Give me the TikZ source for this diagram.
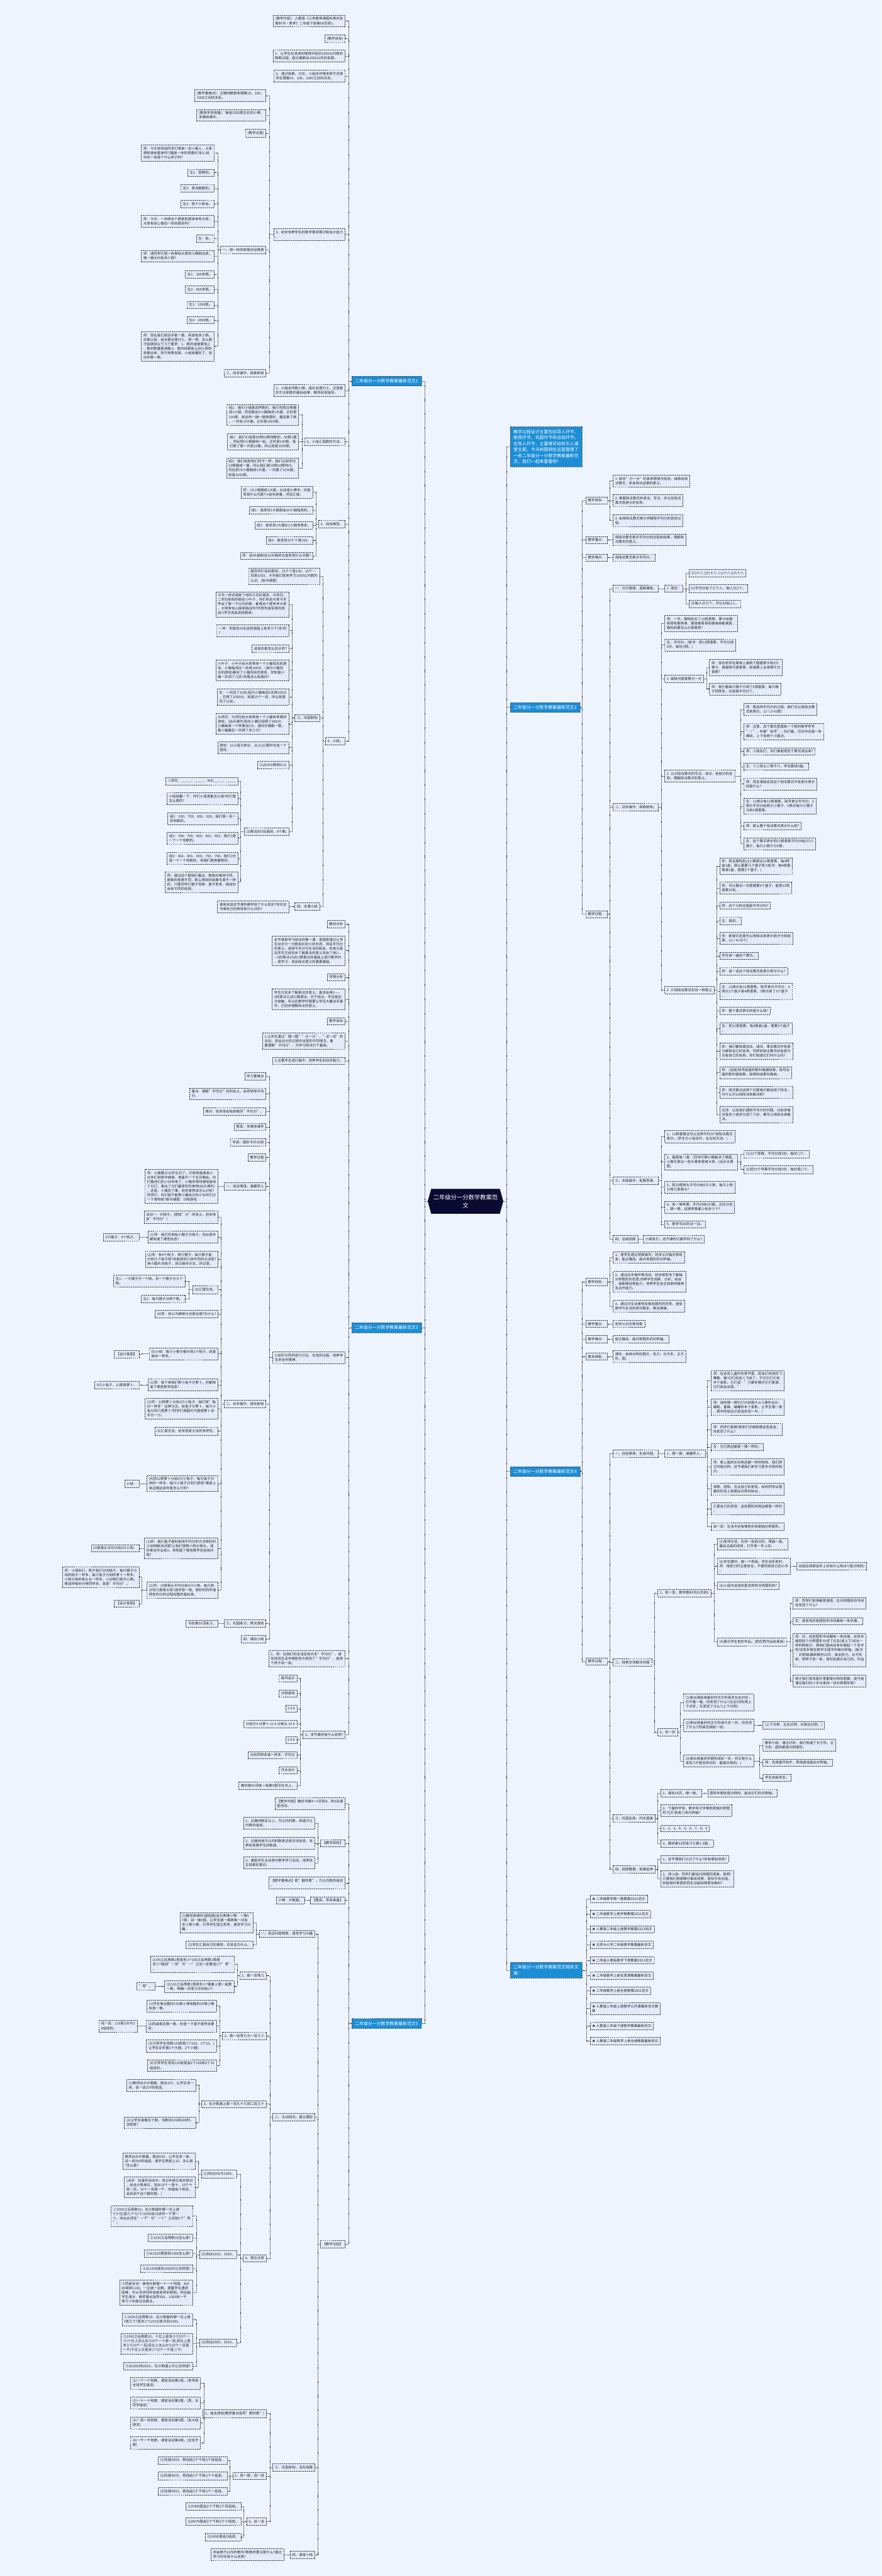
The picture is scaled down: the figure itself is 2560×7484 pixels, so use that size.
\documentclass[tikz,border=0pt]{standalone}
\usepackage{fontspec}
\setmainfont{Noto Sans CJK SC}
\definecolor{paper}{HTML}{EEF4FE}
\definecolor{leaffill}{HTML}{E3EBF9}
\definecolor{topicblue}{HTML}{1C8ED6}
\definecolor{rootblue}{HTML}{0B0B32}
\pgfdeclarelayer{bg}
\pgfsetlayers{bg,main}
\tikzset{
  leaf/.style={draw=black!80, line width=1.1pt, dash pattern=on 3.5pt off 2pt, fill=leaffill,
    text=black!85, align=left, inner xsep=6pt, inner ysep=6pt, font=\fontsize{10pt}{12.9pt}\selectfont},
  leafL/.style={leaf, anchor=east},
  leafR/.style={leaf, anchor=west},
  topic/.style={draw=black!70, line width=1.1pt, dash pattern=on 3.5pt off 2pt, fill=topicblue,
    text=white, align=left, inner xsep=10pt, inner ysep=8.5pt, font=\fontsize{12.6pt}{17.3pt}\selectfont},
  rootnode/.style={text=white, align=center, inner xsep=16pt, inner ysep=16pt,
    font=\fontsize{17pt}{24pt}\selectfont},
  link/.style={draw=black!85, line width=1pt, dash pattern=on 2pt off 1.5pt}
}
% parent, trunk x, children
\newcommand{\fanL}[3]{\foreach \c in {#3}{\draw[link] (#1.west) -- (#2,0 |- #1.west) |- (\c.east);}}
\newcommand{\fanR}[3]{\foreach \c in {#3}{\draw[link] (#1.east) -- (#2,0 |- #1.east) |- (\c.west);}}

\begin{document}
\begin{tikzpicture}[x=1pt,y=-1pt]
\useasboundingbox (0,0) rectangle (2560,7484);

\node[rootnode] (root) at (1352,3490) {二年级分一分数学教案范\\文};
\node[topic,anchor=east] (b1) at (1225,1107) {二年级分一分数学教案最新范文1};
\node[topic,anchor=east] (b3) at (1225,3857) {二年级分一分数学教案最新范文3};
\node[topic,anchor=east] (b5) at (1225,5879) {二年级分一分数学教案最新范文5};
\node[topic,anchor=west] (info) at (1481,1298) {教学过程设计主要包括导入环节、\\新授环节、巩固环节和总结环节。\\在导入环节，主要撰写如何引入课\\堂主题。今天树图网在这里整理了\\一些二年级分一分数学教案最新范\\文，我们一起来看看吧!};
\node[topic,anchor=west] (b2) at (1481,2055) {二年级分一分数学教案最新范文2};
\node[topic,anchor=west] (b4) at (1481,4275) {二年级分一分数学教案最新范文4};
\node[topic,anchor=west] (rel) at (1481,5724) {二年级分一分数学教案范文相关文\\章：};

\begin{pgfonlayer}{bg}
\fill[paper] (0,0) rectangle (2560,7484);
\fill[rootblue] (root.west) -- ([xshift=10pt]root.north west) -- ([xshift=-10pt]root.north east)
  -- (root.east) -- ([xshift=-10pt]root.south east) -- ([xshift=10pt]root.south west) -- cycle;
\end{pgfonlayer}

\fanL{root}{1233}{b1,b3,b5}
\fanR{root}{1471}{info,b2,b4,rel}

% 范文1
\node[leafL] (a1) at (1003,61) {[教学内容]：人教版《义务教育课程标准实验\\教科书·数学》二年级下册第68页例1。};
\node[leafL] (a2) at (1003,112) {[教学目标]};
\node[leafL] (a3) at (1003,163) {1、让学生在具体的情境中经历1000以内数的\\数数过程，能正确数出1000以内的各数。};
\node[leafL] (a4) at (1003,221) {2、通过探索、讨论、小组合作等多种方式使\\学生理解10、100、1000之间的关系。};
\node[leafL] (a5) at (1003,681) {3、初步培养学生的数学猜测意识和估计能力\\。};
\node[leafL] (a6) at (1003,1135) {1、小组合作数小棒，组长合理分工，记录数\\的方法和数的最后结果，教师巡视指导。};
\node[leafL] (a7) at (1003,1283) {2、小组汇报数的方法。};
\node[leafL] (a8) at (1003,1522) {3、找出典型。};
\node[leafL] (a9) at (1003,2153) {4、小结。};
\fanL{b1}{1012}{a1,a2,a3,a4,a5,a6,a7,a8,a9}

\node[leafL] (a5a) at (773,278) {[教学重难点]：正确地数数和理解10、100、\\1000之间的关系。};
\node[leafL] (a5b) at (773,335) {[教具学具准备]：每组1000根左右的小棒，\\多媒体课件。};
\node[leafL] (a5c) at (773,387) {[教学过程]};
\node[leafL] (a5d) at (773,726) {一、用一休的故事创设情境};
\node[leafL] (a5e) at (773,1084) {二、动手操作，探索新知};
\fanL{a5}{782}{a5a,a5b,a5c,a5d,a5e}

\node[leafL] (d1) at (623,444) {师：今天老师给同学们带来一位小客人，大家\\想知道他是谁吗?(播放一休的录像片)你心目\\中的一休是个什么样子的?};
\node[leafL] (d2) at (623,502) {生1：聪明的。};
\node[leafL] (d3) at (623,547) {生2：爱动脑筋的。};
\node[leafL] (d4) at (623,592) {生3：是个小和尚。};
\node[leafL] (d5) at (623,643) {师：今天，一休想出个数数的题来考考大家，\\大家有信心做出一休的题目吗?};
\node[leafL] (d6) at (623,693) {生：有。};
\node[leafL] (d7) at (623,744) {师：请同学们把一休带给大家的小棒倒出来，\\猜一猜大约有多少根?};
\node[leafL] (d8) at (623,797) {生1：300多根。};
\node[leafL] (d9) at (623,841) {生2：800多根。};
\node[leafL] (d10) at (623,886) {生3：1000根。};
\node[leafL] (d11) at (623,930) {生4：2000根。};
\node[leafL] (d12) at (623,1006) {师：现在我们就动手数一数，到底有多少根。\\在数以前，组长要合理分工，想一想，怎么数\\才能做到以下几个要求：1、数的速度要快;2\\、数的数量要准确;3、数的结果能让别人很快\\就看出来，而不用再去数。小组商量好了，就\\动手数一数。};
\fanL{a5d}{633}{d1,d2,d3,d4,d5,d6,d7,d8,d9,d10,d11,d12}

\node[leafL] (e1) at (868,1205) {组1：我们小组是这样数的，我们先把20根捆\\成1小捆，然后数出5小捆捆成1大捆，正好是\\100根，就这样一捆一捆地摆好，最后数了数\\，一共有10大捆，正好是1000根。};
\node[leafL] (e2) at (868,1283) {组2：我们小组是50根50根地数的，50根1捆\\，然后把2小捆捆到一起，正好是100根，我\\们数了数一共是10捆，所以就是1000根。};
\node[leafL] (e3) at (868,1360) {组3：我们组和他们的不一样，我们以前学过\\10根捆成一捆，所以我们是10根10根地分。\\然后把10小捆捆成1大捆，一共捆了10大捆，\\就是1000根。};
\fanL{a7}{877}{e1,e2,e3}

\node[leafL] (f1) at (909,1430) {师：10小捆捆成1大捆，从这组小棒中，你能\\发现什么问题?小组先商量，然后汇报。};
\node[leafL] (f2) at (909,1482) {组1：我发现1大捆是由10小捆组成的。};
\node[leafL] (f3) at (909,1526) {组2：我发现1大捆比1小捆多得多。};
\node[leafL] (f4) at (909,1570) {组3：我发现10个十是100。};
\node[leafL] (f5) at (909,1615) {师：这l大捆和这10大捆你又能发现什么问题?};
\fanL{a8}{917}{f1,f2,f3,f4,f5}

\node[leafL] (g1) at (929,1674) {跟同学们说的那样，10个十是100，10个一\\百是1000，今天我们就来学习1000以内数的\\认识。(板书课题)};
\node[leafL] (g2) at (929,2086) {三、巩固新知};
\node[leafL] (g3) at (929,2634) {四、全课小结};
\fanL{a9}{937}{g1,g2,g3}

\node[leafL] (h1) at (839,1756) {今天一休还请来了他的三位好朋友，大师兄、\\二师兄和他的朋友小叶子，他们听说大家今天\\学会了数一千以内的数，都想出个题考考大家\\，大家有信心接受挑战吗?你想先接受谁的挑\\战?(学生自由选择题目)};
\node[leafL] (h2) at (839,1832) {一休：你能估计出这些画面上有多少个(本)吗\\?};
\node[leafL] (h3) at (839,1884) {说说你是怎么估计的?};
\node[leafL] (h4) at (839,1947) {小叶子：小叶子给大家带来一个小猫闯关的游\\戏，小猫每闯过一关得100分，(演示小猫闯\\关的游戏)看完了小猫闯关的游戏，你知道小\\猫一共闯了几关?你是怎么知道的?};
\node[leafL] (h5) at (839,2025) {生：一共闯了10关;因为小猫每闯1关得100分\\，它得了1000分，就是10个一百，所以就是\\闯了10关。};
\node[leafL] (h6) at (839,2103) {大师兄：大师兄给大家带来一个小猫收苹果的\\游戏，(出示课件)现在小猫已经得了986分，\\小猫每收一个苹果加1分，请你仔细数一数，\\看小猫最后一共得了多少分?};
\node[leafL] (h7) at (839,2172) {游戏：以小组为单位，从(1)(2)题中任选一个\\题目。};
\node[leafL] (h8) at (839,2223) {(1)从592数到613;};
\node[leafL] (h9) at (839,2416) {(2)数出897后面的，8个数;};
\fanL{g2}{849}{h1,h2,h3,h4,h5,h6,h7,h8,h9}

\node[leafL] (i1) at (692,2269) {二师兄：\_\_\_\_\_、\_\_\_\_\_、800\_\_\_\_\_、\_\_\_\_\_};
\node[leafL] (i2) at (692,2320) {小组商量一下，你们小组准备怎么填?你们是\\怎么数的?};
\node[leafL] (i3) at (692,2378) {组1：600、700、800、900，我们是一百一\\百地数的。};
\node[leafL] (i4) at (692,2435) {组2：798、799、800、801、802，我们1是\\一个一个地数的。};
\node[leafL] (i5) at (692,2494) {组3：802、801、800、799、798，我们1也\\是一个一个地数的，但我们是倒着数的。};
\node[leafL] (i6) at (692,2563) {师：通过这个题我们看出，数数的顺序不同、\\数数的规律不同，那么得到的结果也是不一样\\的，只要同学们善于观察，善于思考，相信你\\会有不同的收获。};
\fanL{h9}{699}{i1,i2,i3,i4,i5,i6}

\node[leafL] (j1) at (839,2634) {谁来说说这节课你都学到了什么知识?你对这\\节课自己的表现有什么评价?};
\fanL{g3}{849}{j1}

% 范文3
\node[leafL] (k1) at (1003,2685) {教材分析};
\node[leafL] (k2) at (1003,2762) {本节课是学习除法的第一课，意图是通过让学\\生动手分一分数目比较小的东西，体验平均分\\的意义，感受平均分与生活的联系。本单元是\\在学生已经初步了解乘法的意义学会了用2—\\—5的乘法口诀口算乘法的基础上进行教学的\\，是学习、体会除法意义的重要基础。};
\node[leafL] (k3) at (1003,2839) {学情分析};
\node[leafL] (k4) at (1003,2903) {学生已初步了解乘法的意义，基本会用2——\\5的乘法口诀口算乘法。对于除法，学生是初\\次接触，所以在教学时需要让学生大量动手操\\作，已初步理解除法的意义。};
\node[leafL] (k5) at (1003,2967) {教学目标};
\node[leafL] (k6) at (1003,3024) {1.让学生通过"摆一摆""分一分"、"试一试"的\\活动，体会在分的过程中出现的不同情况，着\\重理解"平均分"，为学习除法打下基础。};
\node[leafL] (k7) at (1003,3082) {2.注重学生进行操作，培养学生的动手能力。};
\node[leafL] (k8) at (1003,3944) {3.经历与同学进行讨论、交流的过程，培养学\\生的合作精神。};
\node[leafL] (k9) at (1003,4819) {1、师：在我们的生活还有许多"平均分"，请\\你找找生活中哪些地方用到了"平均分"，能举\\个例子说一说。};
\node[leafL] (k10) at (1003,5040) {2、本节课你有什么收获?};
\fanL{b3}{1012}{k1,k2,k3,k4,k5,k6,k7,k8,k9,k10}

\node[leafL] (l1) at (773,3127) {学习重难点};
\node[leafL] (l2) at (773,3178) {重点：理解"平均分"的的含义，会将物体平均\\分。};
\node[leafL] (l3) at (773,3229) {难点：初步体会有余数的"平均分"。};
\node[leafL] (l4) at (773,3274) {教具：多媒体课件};
\node[leafL] (l5) at (773,3319) {学具：圆形卡片30张};
\node[leafL] (l6) at (773,3363) {教学过程};
\node[leafL] (l7) at (773,3447) {一、创设情境，激趣导入};
\node[leafL] (l8) at (773,4079) {二、动手操作，探究新知};
\node[leafL] (l9) at (773,4717) {三、巩固练习，再次感知};
\node[leafL] (l10) at (773,4762) {四、课后小结};
\fanL{k8}{782}{l1,l2,l3,l4,l5,l6,l7,l8,l9,l10}

\node[leafL] (m0) at (634,3447) {师：小猪要过10岁生日了，它特地邀请来小\\伙伴们到家中做客，准备开一个生日晚会。你\\们看他们的小伙伴来了，小猪非常热情地接待\\了它们，拿出了它们最爱吃的食物(出示课件)\\，这是，小猪犯了难，这些食物该怎么分呢?\\同学们，你们能不能帮小猪给它的小伙伴们分\\一下食物呢?板书课题：分物游戏};
\fanL{l7}{642}{m0}

\node[leafL] (m1) at (634,3536) {活动一：分桃子。(感知"分"的含义，初步体\\会"平均分")};
\node[leafL] (m2) at (634,3594) {(1)师：我们先来给小猴子分桃子。你从图中\\都知道了哪些信息?};
\node[leafL] (m3) at (634,3658) {(2)师：有4个桃子，两只猴子，每只猴子能\\分到几个桃子呢?你能想到几种不同的分法呢?\\用小圆片当桃子，自己操作分法，并记录。};
\node[leafL] (m4) at (634,3747) {(3)汇报交流。};
\node[leafL] (m5) at (634,3818) {(4)师：你认为哪种分法更合理?为什么?};
\node[leafL] (m6) at (634,3933) {(5)小结：每只小猴子都分到2个桃子，就是\\每份一样多。};
\node[leafL] (m7) at (634,4023) {(1)师：接下来我们帮小兔子分萝卜。你都知\\道了哪些数学信息?};
\node[leafL] (m8) at (634,4093) {(2)师：12根萝卜分给3只小兔子，我们按"每\\份一样多"这种分法，给兔子分萝卜，每只小\\兔分到几根萝卜?同学们用圆片代替胡萝卜动\\手分一分。};
\node[leafL] (m9) at (634,4158) {(3)汇报交流，初步感受分法的多样性。};
\node[leafL] (m10) at (634,4310) {(4)把12根萝卜分给3只小兔子，每只兔子分\\到的一样多，每只小兔子分到几根呢?谁能上\\来边摆边讲你是怎么分的?};
\node[leafL] (m11) at (634,4498) {(1)师：我们能不能利用用平均分的方法帮别的\\小动物解决问题?让我们快帮小狗分骨头，请\\你拿出作业纸1，你知道了哪些数学信息和问\\题?};
\node[leafL] (m12) at (634,4620) {(2)师：15根骨头平均分给3只小狗，每只狗\\分到几根骨头呢?请你想一想。想好的同学请\\把你的分的过程完整的画出来。};
\fanL{l8}{642}{m1,m2,m3,m4,m5,m6,m7,m8,m9,m10,m11,m12}

\node[leafL] (p1) at (404,3594) {2只猴子，4个桃子。};
\fanL{m2}{412}{p1}
\node[leafL] (p2) at (538,3722) {生1：一只猴子分一个桃，另一个猴子分三个\\桃。};
\node[leafL] (p3) at (538,3773) {生2：每只猴子分两个桃。};
\fanL{m4}{548}{p2,p3}
\node[leafL] (p4) at (404,3934) {【设计意图】};
\fanL{m6}{412}{p4}
\node[leafL] (p5) at (404,4024) {3只小兔子，12根胡萝卜。};
\fanL{m7}{412}{p5}
\node[leafL] (p6) at (404,4311) {小结：};
\fanL{m10}{412}{p6}
\node[leafL] (p7) at (404,4498) {15根骨头平均分给3只小狗。};
\fanL{m11}{412}{p7}
\node[leafL] (p8) at (404,4582) {师：小朋友们，刚才我们分的桃子，每只猴子分\\到的桃子一样多，每只兔子分到的萝卜一样多，\\小狗分到的骨头也一样多，小动物们真开心啊。\\像这样每份分得同样多，就是"平均分"。};
\node[leafL] (p9) at (404,4659) {【设计意图】};
\fanL{m12}{412}{p8,p9}

\node[leafL] (q1) at (634,4717) {书本第59页练习。};
\fanL{l9}{642}{q1}

\foreach \t/\y [count=\i] in {板书设计/4876, 分物游戏/4920, 2 4 5/4964,
  分桃子4 分萝卜 12 4 分骨头 15 5/5009, 2 4 5/5055, 分的同样多或一样多：平均分/5099,
  作业设计/5143, 教材第59页练一练第5题写在书上。/5188}
  \node[leafL] (r\i) at (863,\y) {\t};
\fanL{k10}{872}{r1,r2,r3,r4,r5,r6,r7,r8}

% 范文5
\node[leafL] (s1) at (1003,5240) {【教学内容】教科书第4～5页例4、例5及课\\堂活动。};
\node[leafL] (s2) at (1003,5355) {【教学目标】};
\node[leafL] (s3) at (1003,5470) {【教学重难点】数"翻坎数"，万以内数的组成\\。};
\node[leafL] (s4) at (1003,5521) {【教具、学具准备】};
\node[leafL] (s5) at (1003,6520) {【教学过程】};
\fanL{b5}{1012}{s1,s2,s3,s4,s5}

\node[leafL] (s2a) at (915,5297) {1、正确地数百以上、万以内的数，知道万以\\内数的组成。};
\node[leafL] (s2b) at (915,5355) {2、正确地用万以内的数表达和交流信息，培\\养和发展学生的数感。};
\node[leafL] (s2c) at (915,5412) {3、激励学生主动参与数学学习活动，培养自\\主探索的意识。};
\fanL{s2}{924}{s2a,s2b,s2c}
\node[leafL] (s4a) at (885,5521) {小棒、计数器。};
\fanL{s4}{894}{s4a}

\node[leafL] (t1) at (915,5618) {一、创设问题情景，激发学习兴趣};
\node[leafL] (t2) at (915,6151) {二、主动探究，建立模型};
\node[leafL] (t3) at (915,7169) {三、巩固新知，深化拓展};
\node[leafL] (t4) at (915,7422) {四、课堂小结};
\fanL{s5}{924}{t1,t2,t3,t4}

\node[leafL] (u1) at (735,5586) {(1)教师用课件(或挂图)出示两堆小棒：一堆9\\7根，另一堆5根。让学生猜一猜两堆一共有\\多少根小棒，引导学生独立思考，激发学习兴\\趣。};
\node[leafL] (u2) at (735,5650) {(2)学生汇报自己的猜想，并说说为什么。};
\fanL{t1}{744}{u1,u2}

\node[leafL] (v1) at (774,5740) {1、数一百零几};
\node[leafL] (v2) at (774,5915) {2、数一百零几与一百几十};
\node[leafL] (v3) at (774,6113) {3、在计数器上数一百九十几到二百几十};
\node[leafL] (v4) at (774,6561) {4、类比迁移};
\fanL{t2}{784}{v1,v2,v3,v4}

\node[leafL] (w1) at (680,5707) {(1)99之后再数1根是多少?100之后再数1根是\\多少?强调"一百"与"一"之间一定要加1个"零"\\。};
\node[leafL] (w2) at (680,5771) {(2)101之后再数1根是多少?看着上图一起数\\一数，明确一百零几中间有1个};
\fanL{v1}{689}{w1,w2}
\node[leafL] (w3) at (450,5771) {"零"。};
\fanL{w2}{460}{w3}

\node[leafL] (x1) at (629,5828) {(1)学生拿出整的100根小棒和散的20根小棒\\各放一堆。};
\node[leafL] (x2) at (629,5886) {(2)同桌相互数一数，检查一下是不是符合要\\求。};
\node[leafL] (x3) at (629,5944) {(3)引导学生观察120根是1个100，2个10。(\\让学生动手捆1个大捆，2个小捆)};
\node[leafL] (x4) at (629,6001) {(4)引导学生发现120就是由1个100和2个10\\组成的。};
\fanL{v2}{638}{x1,x2,x3,x4}
\node[leafL] (x5) at (399,5886) {说一说：110是100与1\\0组成的。};
\fanL{x2}{408}{x5}

\node[leafL] (y1) at (569,6058) {(1)教师出示计数器，拨出197，让学生读一\\读，说一说197的组成。};
\node[leafL] (y2) at (569,6167) {(2)让学生接着往下数，当数到199到200时，\\怎样拨?};
\fanL{v3}{577}{y1,y2}

\node[leafL] (z1) at (689,6316) {(1)突出990与1000。};
\node[leafL] (z2) at (689,6550) {(2)突出1010、1020。};
\node[leafL] (z3) at (689,6806) {(3)突出2000，2010。};
\fanL{v4}{699}{z1,z2,z3}

\node[leafL] (z1a) at (567,6278) {教师出示计数器，拨出990，让学生读一读，\\说一说990的组成。请学生再拨上10，怎么拨\\?怎么数?};
\node[leafL] (z1b) at (567,6355) {[点评：在操作活动中，充分利用已有的知识\\，结合计数单位，突出10个一是十，10个十\\是一百，10个一百是一千，突破由十到百、\\由百到千这个翻坎数。]};
\fanL{z1}{576}{z1a,z1b}

\node[leafL] (z2a) at (560,6438) {①1000之后再数10，在计数器的哪一位上拨\\?(十位)拨几个?(1个)1000加10读作一千零一\\十，突出必须在"一千"与"一十"之间加1个"零\\"。};
\node[leafL] (z2b) at (560,6502) {②1010之后再数10怎么拨?};
\node[leafL] (z2c) at (560,6547) {③从1020再拨到1300怎么拨?};
\node[leafL] (z2d) at (560,6591) {④从1300拨到1400可以怎样拨?};
\node[leafL] (z2e) at (560,6661) {⑤同桌互动：使用计数器一十一十地拨，从8\\80拨到1100，一边拨一边数。提醒学生遇到\\困难，可以寻求同伴或者老师的帮助。然后抽\\学生演示，教师重点指导990、1000和一千\\零几十的拨法及数法。};
\fanL{z2}{570}{z2a,z2b,z2c,z2d,z2e}

\node[leafL] (z3a) at (560,6739) {①1900之后再数10，在计数器的哪一位上拨\\?拨几个?是多少?(1910)依次到1990。};
\node[leafL] (z3b) at (560,6809) {②1990之后再数10，十位上是多少?(10个一\\十)十位上怎么办?(10个一十是一百)百位上是\\多少?(10个一百)百位上怎么办?(10个一百是\\一千)千位上又是多少?(2个一千是二千)};
\node[leafL] (z3c) at (560,6874) {③从2000到2001，在计数器上可以怎样拨?};
\fanL{z3}{570}{z3a,z3b,z3c}

\node[leafL] (aa1) at (774,7012) {1、接龙游戏(教师重点指导"翻坎数")};
\node[leafL] (aa2) at (774,7193) {2、拨一拨，说一说};
\node[leafL] (aa3) at (774,7326) {3、说一说};
\fanL{t3}{784}{aa1,aa2,aa3}

\node[leafL] (ac1) at (583,6924) {(1)一个一个地数，课堂活动第1题。(老师和\\全班学生接龙)};
\node[leafL] (ac2) at (583,6981) {(2)一十一十地数，课堂活动第2题。(男、女\\同学接龙)};
\node[leafL] (ac3) at (583,7039) {(3)一百一百地数，课堂活动第3题。(各大组\\接龙)};
\node[leafL] (ac4) at (583,7097) {(4)一千一千地数，课堂活动第4题。(全班齐\\数)};
\fanL{aa1}{592}{ac1,ac2,ac3,ac4}

\node[leafL] (ad1) at (660,7148) {(1)先拨3500，再说由()个千和()个百组成。};
\node[leafL] (ad2) at (660,7193) {(2)先拨4020，再说由()个千和()个十组成。};
\node[leafL] (ad3) at (660,7238) {(3)先拨6003，再说由()个千和()个一组成。};
\fanL{aa2}{668}{ad1,ad2,ad3}

\node[leafL] (ae1) at (700,7282) {(1)5400是由()个千和()个百组成。};
\node[leafL] (ae2) at (700,7326) {(2)4070是由()个千和()个十组成。};
\node[leafL] (ae3) at (700,7371) {(3)2496是由()组成。};
\fanL{aa3}{708}{ae1,ae2,ae3}

\node[leafL] (ab1) at (825,7422) {你会数万以内的数吗?数数时要注意什么?通过\\学习你还有什么收获?};
\fanL{t4}{835}{ab1}

% 范文2
\node[leafR] (c1) at (1701,1454) {教学目标：};
\node[leafR] (c2) at (1701,1569) {教学重点：};
\node[leafR] (c3) at (1701,1620) {教学难点：};
\node[leafR] (c4) at (1701,2656) {教学过程：};
\fanR{b2}{1691}{c1,c2,c3,c4}

\node[leafR] (c1a) at (1780,1397) {1. 结合"分一分"的具体情境与经验，抽象出除\\法算式，体会除法运算的意义。};
\node[leafR] (c1b) at (1780,1454) {2. 掌握除法算式的读法、写法，并记住除法\\算式各部分的名称。};
\node[leafR] (c1c) at (1780,1512) {3. 会用除法算式表示并解释平均分的具体过\\程。};
\fanR{c1}{1771}{c1a,c1b,c1c}
\node[leafR] (c2a) at (1780,1568) {用除法算式表示平均分的过程和结果，理解除\\法算式的意义。};
\fanR{c2}{1771}{c2a}
\node[leafR] (c3a) at (1780,1620) {用除法算式表示平均分。};
\fanR{c3}{1771}{c3a}

\node[leafR] (ca) at (1780,1710) {一、分分填填，温故铺垫。};
\node[leafR] (cb) at (1780,2345) {二、动手操作，探索新知。};
\node[leafR] (cc) at (1780,3430) {三、实践操作，拓展思维。};
\node[leafR] (cd) at (1780,3600) {四、总结回顾};
\fanR{c4}{1771}{ca,cb,cc,cd}

\node[leafR] (ca1) at (1930,1710) {1. 填空：};
\fanR{ca}{1921}{ca1}
\node[leafR] (ca1a) at (2000,1665) {三()十二 ()六十二 二()十八 ()六十八};
\node[leafR] (ca1b) at (2000,1710) {(1)平均分给了三个人，每人分()个。};
\node[leafR] (ca1c) at (2000,1754) {(2)每人分三个，可以分给()人。};
\fanR{ca1}{1992}{ca1a,ca1b,ca1c}

\node[leafR] (cb1) at (1930,1811) {师：一天，猴妈妈买了12根香蕉，要分给猴\\哥哥和猴弟弟，要使猴哥哥和猴弟弟都满意，\\猴妈妈要怎么分香蕉呢?};
\node[leafR] (cb2) at (1930,1874) {生：平均分。(板书：把12根香蕉，平均分成\\2份，每份()根。)};
\node[leafR] (cb3) at (1930,1972) {1. 磁铁代替香蕉分一分};
\node[leafR] (cb4) at (1930,2255) {2. 认识除法算式的写法、读法、各部分的名\\称，理解除法算式的意义。};
\node[leafR] (cb5) at (1930,2876) {3. 介绍除法算式的另一种意义};
\fanR{cb}{1920}{cb1,cb2,cb3,cb4,cb5}

\node[leafR] (cb3a) at (2060,1939) {师：现在老师在黑板上画两个圆圈表示有2只\\猴子，用磁铁代替香蕉，有谁要上台来帮忙分\\香蕉?};
\node[leafR] (cb3b) at (2060,2002) {师：我们看每只猴子分到了6根香蕉，每只猴\\子同样多，也就是平均分了。};
\fanR{cb3}{2053}{cb3a,cb3b}

\node[leafR] (cb4a) at (2160,2061) {师：像这样平均分的过程，我们可以用除法算\\式来表示。12÷2=6(根)};
\node[leafR] (cb4b) at (2160,2125) {师：注意，这个算式里面有一个新的数学符号\\"÷"，叫做"除号"。你们看，它的中间是一条\\横线，上下有两个小圆点。};
\node[leafR] (cb4c) at (2160,2183) {师：小朋友们，你们谁能把这个算式读出来?};
\node[leafR] (cb4d) at (2160,2227) {生：十二除以二等于六，学生跟读2遍。};
\node[leafR] (cb4e) at (2160,2278) {师：现在谁能说说这个除法算式中各部分表示\\的是什么?};
\node[leafR] (cb4f) at (2160,2342) {生：12表示有12根香蕉，除号表示平均分，2\\表示平均分给两只小猴子，6表示每只小猴子\\分到6根香蕉。};
\node[leafR] (cb4g) at (2160,2399) {师：那么整个除法算式表示什么呢?};
\node[leafR] (cb4h) at (2160,2451) {生：这个算式表示把12根香蕉平均分给2只小\\猴子，每只小猴子分6根。};
\fanR{cb4}{2151}{cb4a,cb4b,cb4c,cb4d,cb4e,cb4f,cb4g,cb4h}

\node[leafR] (cb5a) at (2090,2516) {师：现在猴妈妈让小猴把这12根香蕉，每4根\\装1盘，那么需要几个盘子呢?(板书：每4根香\\蕉装1盘，需要()个盘子。)};
\node[leafR] (cb5b) at (2090,2580) {师：可以看出一共是需要3个盘子，能把12根\\香蕉分完。};
\node[leafR] (cb5c) at (2090,2631) {师：这个分的过程是平均分吗?};
\node[leafR] (cb5d) at (2090,2675) {生：是的。};
\node[leafR] (cb5e) at (2090,2726) {师：那我们还是可以用除法来表示刚才分的结\\果。12÷4=3(个)};
\node[leafR] (cb5f) at (2090,2777) {学生读一遍这个算式。};
\node[leafR] (cb5g) at (2090,2822) {师：说一说这个除法算式各部分表示什么?};
\node[leafR] (cb5h) at (2090,2880) {生：12表示有12根香蕉，除号表示平均分，4\\表示1个盘子装4根香蕉，3表示用了3个盘子\\。};
\node[leafR] (cb5i) at (2090,2937) {师：整个算式表示的是什么呢?};
\node[leafR] (cb5j) at (2090,2988) {生：把12根香蕉，每4根装1盘，需要3个盘子\\。};
\node[leafR] (cb5k) at (2090,3054) {师：我们都知道加法、减法、乘法算式中各部\\分都有自己的名称，同样的除法算式的各部分\\也有自己的名称，你们知道它们叫什么吗?};
\node[leafR] (cb5l) at (2090,3116) {师：(总结)除号前面的数叫做被除数，除号后\\面的数叫做除数，除得的结果叫做商。};
\node[leafR] (cb5m) at (2090,3174) {师：刚才解决这两个问题我们都运用了除法，\\为什么可以用除法来解决呢?};
\node[leafR] (cb5n) at (2090,3238) {总述：以后我们遇到平均分的问题，比如求每\\份是多少或求分成了几份，都可以用除法来解\\决。};
\fanR{cb5}{2081}{cb5a,cb5b,cb5c,cb5d,cb5e,cb5f,cb5g,cb5h,cb5i,cb5j,cb5k,cb5l,cb5m,cb5n}

\node[leafR] (cc1) at (1930,3302) {1、12根香蕉还可以怎样平均分?用除法算式\\表示。(学生分小组合作，在全班交流。)};
\node[leafR] (cc2) at (1930,3376) {2、看图填一填：(同学们帮小猴解决了难题，\\小猴又拿出一些水果来感谢大家。)出示水果\\图。};
\node[leafR] (cc3) at (1930,3449) {3、把18根骨头平均分给6只小狗，每只小狗\\分得几根骨头?};
\node[leafR] (cc4) at (1930,3507) {4、有一堆苹果，平均分给5只猴，正好分完\\。猜一猜，这堆苹果最少有多少个?};
\node[leafR] (cc5) at (1930,3557) {5、数学书38页试一试。};
\fanR{cc}{1920}{cc1,cc2,cc3,cc4,cc5}
\node[leafR] (cc2a) at (2160,3353) {(1)12个草莓，平均分成3份，每份( )个。};
\node[leafR] (cc2b) at (2160,3398) {(2)把15个苹果平均分成3份，每份是( )个。};
\fanR{cc2}{2151}{cc2a,cc2b}

\node[leafR] (cd1) at (1868,3600) {小朋友们，这节课你们都学到了什么?};
\fanR{cd}{1860}{cd1}

% 范文4
\node[leafR] (o1) at (1701,3724) {教学目标：};
\node[leafR] (o2) at (1701,3846) {教学重点：};
\node[leafR] (o3) at (1701,3890) {教学难点：};
\node[leafR] (o4) at (1701,3941) {教具准备：};
\node[leafR] (o5) at (1701,4827) {教学过程：};
\fanR{b4}{1691}{o1,o2,o3,o4,o5}

\node[leafR] (o1a) at (1780,3653) {1、使学生通过观察操作，初步认识轴对称现\\象，能正确找、画对称图形的对称轴。};
\node[leafR] (o1b) at (1780,3724) {2、通过动手操作等活动，初步感性地了解轴\\对称图形的性质;培养学生观察、分析、综合\\、抽象概括等能力，培养学生自主探索的精神\\及合作能力。};
\node[leafR] (o1c) at (1780,3795) {3、通过对生活事物及相应图形的欣赏，感受\\数学与生活的密切联系，陶冶情操。};
\fanR{o1}{1771}{o1a,o1b,o1c}
\node[leafR] (o2a) at (1780,3846) {初步认识对称现象};
\fanR{o2}{1771}{o2a}
\node[leafR] (o3a) at (1780,3890) {能正确找、画对称图形的对称轴。};
\fanR{o3}{1771}{o3a}
\node[leafR] (o4a) at (1780,3941) {课件、各种对称的图片，剪刀，长方形，正方\\形，圆。};
\fanR{o4}{1771}{o4a}

\node[leafR] (oa) at (1780,4223) {一、创设情境，生成问题。};
\node[leafR] (ob) at (1780,4830) {二、探索交流解决问题};
\node[leafR] (oc) at (1780,5283) {三、巩固应用，内化提高};
\node[leafR] (od) at (1780,5431) {四、回顾整理，拓展延伸};
\fanR{o5}{1771}{oa,ob,oc,od}

\node[leafR] (oa1) at (1930,4223) {1、猜一猜，激趣导入。};
\fanR{oa}{1921}{oa1}
\node[leafR] (oa1a) at (2065,4011) {师：在这花儿盛开的季节里，昆虫们欢快的飞\\舞着，看!它们向这儿飞来了，不过它们只有\\半个身影。它们说："只要你猜对它们是谁，\\它们就会出现。"};
\node[leafR] (oa1b) at (2065,4088) {师：请你猜一猜它们分别是什么?(课件出示：\\蜻蜓、蜜蜂、蝴蝶的半个身影，让学生猜一猜\\，猜中的就出示昆虫的另一半。)};
\node[leafR] (oa1c) at (2065,4153) {师：同学们真棒!那你们仔细观察这些昆虫，\\你发现了什么?};
\node[leafR] (oa1d) at (2065,4204) {生：它们两边都是一摸一样的。};
\node[leafR] (oa1e) at (2065,4261) {师：像上面的左右两边都一样的物体，我们把\\它叫做对称。这节课我们来学习更多对称的知\\识。};
\node[leafR] (oa1f) at (2065,4326) {观察、感知，互议自己的发现。有的同学从图\\案的形状上观察出对称的特点。};
\node[leafR] (oa1g) at (2065,4383) {汇报自己的发现：这些图形的两边都是一样的\\。};
\node[leafR] (oa1h) at (2065,4435) {说一说：生活中还有哪些东西是轴对称图形。};
\fanR{oa1}{2055}{oa1a,oa1b,oa1c,oa1d,oa1e,oa1f,oa1g,oa1h}

\node[leafR] (ob1) at (1910,4628) {1、剪一剪，教学教科书29页例1};
\node[leafR] (ob2) at (1910,5032) {2、折一折};
\fanR{ob}{1900}{ob1,ob2}

\node[leafR] (ob1a) at (2083,4486) {(1)老师示范，先将一张纸对折，再画一画，\\最后沿画的线剪，打开是一件上衣。};
\node[leafR] (ob1b) at (2083,4550) {(2)学生模仿，做一个剪纸。学生动手剪时，\\师：用剪刀时注意安全，不要伤到自己的小手\\。};
\node[leafR] (ob1c) at (2083,4607) {(3)小组内说说你是怎样剪对称图形的?};
\node[leafR] (ob1d) at (2083,4770) {(4)展示学生剪的作品。(把优秀作品贴黑板)};
\fanR{ob1}{2074}{ob1a,ob1b,ob1c,ob1d}
\node[leafR] (ob1e) at (2313,4550) {完成后观察这件上衣有什么特点?(是对称的)};
\fanR{ob1b}{2304}{ob1e}
\node[leafR] (ob1f) at (2303,4658) {师：同学们剪得都很漂亮，在对称图形的中间\\你发现了什么?};
\node[leafR] (ob1g) at (2303,4710) {生：我发现所有图形的中间都有一条折痕。};
\node[leafR] (ob1h) at (2303,4794) {师：对，这些图形中间都有一条折痕，这条折\\痕把这个对称图形分成了左右(或上下)完全一\\样的两部分，那咱们能给这条折痕起一个名字\\吧!这条折痕在数学王国中叫做对称轴。(板书\\：对称轴)翻到教材29页，拿出剪刀、长方形\\纸，照样子剪一剪，剪好后展示自己的。作品\\。};
\node[leafR] (ob1i) at (2303,4884) {刚才我们发现图片里都是对称的图案，能不能\\通过我们的小手也来找一找对称图形呢?};
\fanR{ob1d}{2295}{ob1f,ob1g,ob1h,ob1i}

\node[leafR] (ob2a) at (1985,4946) {(1)拿出课前准备好的长方形纸先左右对折，\\打开看一看，你发现了什么?(左右对称)再上\\下对折，又发现了什么?(上下对称)};
\node[leafR] (ob2b) at (1985,5012) {(2)拿出准备好的正方形纸片折一折，你发现\\了什么?(同桌互相说一说)};
\node[leafR] (ob2c) at (1985,5116) {(3)拿出准备好的圆形纸折一折，你又有什么\\发现?(不管怎样对折，都是对称的。)};
\fanR{ob2}{1976}{ob2a,ob2b,ob2c}
\node[leafR] (ob2d) at (2215,5012) {(上下对称，左右对称，对角也对称。)};
\fanR{ob2b}{2205}{ob2d}
\node[leafR] (ob2e) at (2215,5070) {教师小结：通过对折，我们知道了长方形、正\\方形、圆形都是对称图形。};
\node[leafR] (ob2f) at (2215,5121) {师：先用直尺标齐，再用虚线画出对称轴。};
\node[leafR] (ob2g) at (2215,5165) {学生自由发言。};
\fanR{ob2c}{2205}{ob2e,ob2f,ob2g}

\node[leafR] (oc1) at (1918,5210) {1、课本29页，做一做。};
\node[leafR] (oc2) at (1918,5260) {2、下面的字母、数字和汉字哪些是轴对称图\\形?它们各有几条对称轴?};
\node[leafR] (oc3) at (1918,5312) {1、2、3、4、5、6、7、8、9};
\node[leafR] (oc4) at (1918,5356) {3、教材第33页练习七第1-3题。};
\fanR{oc}{1910}{oc1,oc2,oc3,oc4}
\node[leafR] (oc5) at (2055,5210) {图形中哪些是对称的，画出它们的对称轴。};
\fanR{oc1}{2046}{oc5}

\node[leafR] (od1) at (1918,5401) {1、这节课我们认识了什么?你有哪些收获?};
\node[leafR] (od2) at (1918,5458) {2、师小结：同学们都说对称图形很美，是啊!\\只要我们用眼睛仔细去观察，用双手去创造，\\就能用对称图形把生活装扮得更加美好!};
\fanR{od}{1910}{od1,od2}

% 相关文章
\foreach \t/\y [count=\i] in {二年级数学数一数教案2021范文/5517, 二年级数学上册学期教案2021范文/5561,
  人教版二年级上册数学教案2021例文/5605, 北师大小学二年级数学教案最新范文/5650,
  二年级人教版数学下册教案2021范文/5695, 二年级数学上册优质课教案最新范文/5739,
  二年级数学上册全册教案2021范文/5784, {人教版二年级上册数学公开课最新范文教\\案}/5835,
  人教版二年级下册数学教案最新范文/5886, 人教版二年级数学上册全册教案最新例文/5930}
  \node[leafR] (rl\i) at (1713,\y) {★ \t};
\fanR{rel}{1704}{rl1,rl2,rl3,rl4,rl5,rl6,rl7,rl8,rl9,rl10}
\end{tikzpicture}
\end{document}
